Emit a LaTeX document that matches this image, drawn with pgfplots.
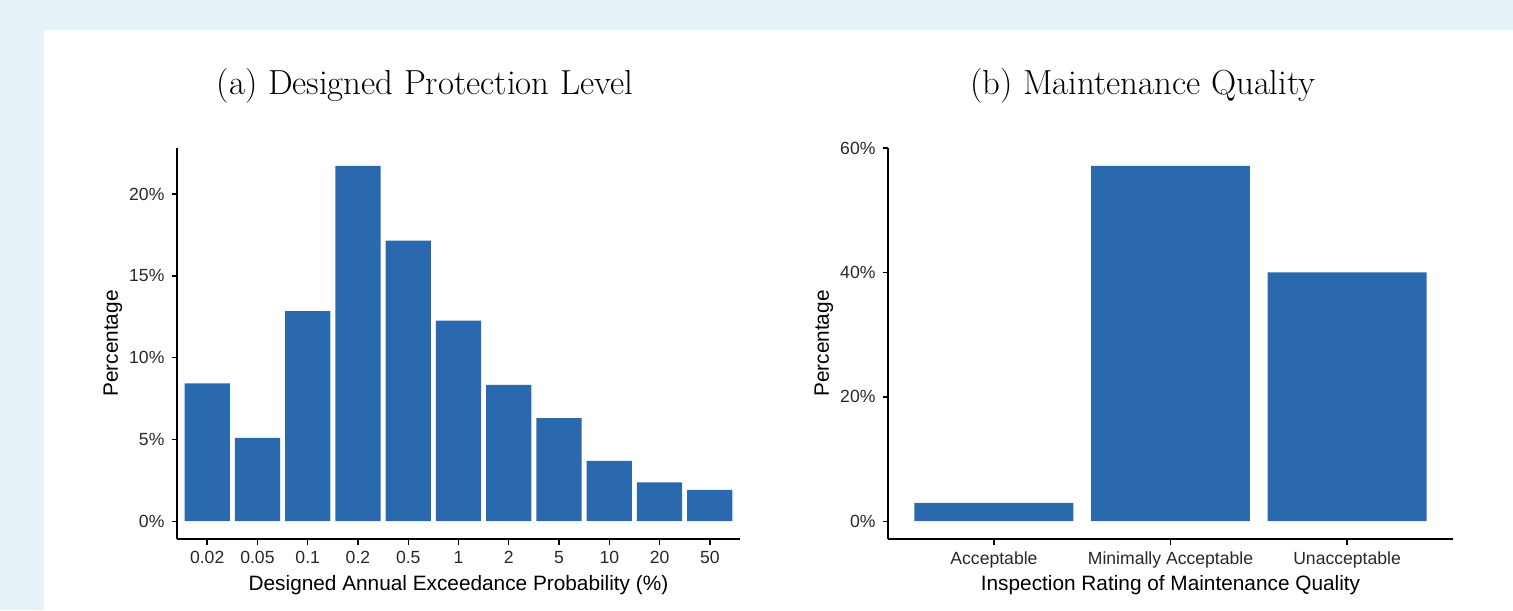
\documentclass[border=0pt]{standalone}
\usepackage{fontspec}
\setsansfont{Liberation Sans}
\usepackage{pgfplots}
\pgfplotsset{compat=1.18}
\definecolor{bg}{RGB}{229,243,249}
\definecolor{barblue}{RGB}{43,105,174}
\definecolor{ticktxt}{RGB}{40,40,40}
\pgfplotsset{gg/.style={
  scale only axis, height=195.5pt,
  axis x line=bottom, axis y line=left,
  axis line style={-, line width=0.7pt, black},
  tick align=outside, major tick length=2.75pt,
  every tick/.style={black, line width=0.7pt},
  /pgf/number format/assume math mode=true,
  tick label style={font=\fontsize{8.8}{10}\selectfont\sffamily, text=ticktxt},
  label style={font=\fontsize{10.4}{12}\selectfont\sffamily, text=black},
  ybar, bar width=0.9,
  clip=false,
}}
\begin{document}
\begin{tikzpicture}
\path[use as bounding box] (0,0) rectangle (756.5pt,305pt);
\fill[bg] (0,0) rectangle (756.5pt,305pt);
\fill[white] (22pt,0) rectangle (756.5pt,290pt);
\node[font=\fontsize{17.4}{21}\selectfont] at (212.5pt,262pt) {(a) Designed Protection Level};
\node[font=\fontsize{17.4}{21}\selectfont] at (571.5pt,262pt) {(b) Maintenance Quality};
\begin{axis}[gg, at={(88.5pt,35.5pt)}, anchor=south west, width=281.5pt,
  xmin=0.4, xmax=11.6, ymin=-1.0865, ymax=22.82,
  xtick={1,2,3,4,5,6,7,8,9,10,11},
  xticklabels={0.02,0.05,0.1,0.2,0.5,1,2,5,10,20,50},
  ytick={0,5,10,15,20}, yticklabels={0\%,5\%,10\%,15\%,20\%},
  xlabel={Designed Annual Exceedance Probability (\%)}, ylabel={Percentage},
  xlabel style={at={(axis description cs:0.5,-0.1176)}, anchor=center},
  ylabel style={at={(axis description cs:-0.1137,0.5)}, anchor=center},
]
\addplot[fill=barblue, draw=none] coordinates {(1,8.43) (2,5.10) (3,12.85) (4,21.73) (5,17.15) (6,12.27) (7,8.33) (8,6.31) (9,3.69) (10,2.37) (11,1.92)};
\end{axis}
\begin{axis}[gg, at={(444pt,35.5pt)}, anchor=south west, width=282.5pt,
  xmin=0.4, xmax=3.6, ymin=-2.858, ymax=60.02,
  xtick={1,2,3},
  xticklabels={Acceptable,Minimally Acceptable,Unacceptable},
  ytick={0,20,40,60}, yticklabels={0\%,20\%,40\%,60\%},
  xlabel={Inspection Rating of Maintenance Quality}, ylabel={Percentage},
  xlabel style={at={(axis description cs:0.5,-0.1176)}, anchor=center},
  ylabel style={at={(axis description cs:-0.1133,0.5)}, anchor=center},
]
\addplot[fill=barblue, draw=none] coordinates {(1,2.95) (2,57.16) (3,40.0)};
\end{axis}
\end{tikzpicture}
\end{document}
